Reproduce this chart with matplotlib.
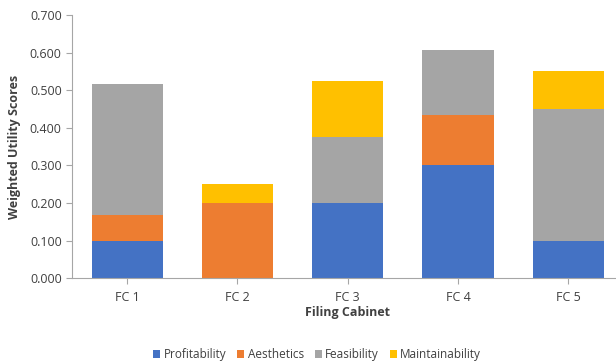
import matplotlib.pyplot as plt
import numpy as np

cabinets = ["FC 1", "FC 2", "FC 3", "FC 4", "FC 5"]
criteria = ["Profitability", "Aesthetics", "Feasibility", "Maintainability"]
profitability = [0.100, 0.000, 0.200, 0.300, 0.100]
aesthetics = [0.067, 0.200, 0.000, 0.133, 0.000]
feasibility = [0.350, 0.000, 0.175, 0.175, 0.350]
maintainability = [0.000, 0.050, 0.150, 0.000, 0.100]
colors = ["#4472C4", "#ED7D31", "#A5A5A5", "#FFC000"]

plt.rcParams['font.family'] = ['Open Sans', 'DejaVu Sans']

fig = plt.figure(figsize=(6.16, 3.64), dpi=100)
ax = fig.add_axes([0.117, 0.236, 0.895, 0.723])

x = np.arange(len(cabinets))
bottom = np.zeros(len(cabinets))
for name, vals, c in zip(criteria, [profitability, aesthetics, feasibility, maintainability], colors):
    ax.bar(x, vals, width=0.645, bottom=bottom, color=c, label=name, zorder=2)
    bottom += np.array(vals)

ax.set_xlim(-0.5, 4.5)
ax.set_ylim(0, 0.7)
ax.set_yticks(np.arange(0, 0.71, 0.1))
ax.set_yticklabels([f"{v:.3f}" for v in np.arange(0, 0.71, 0.1)])
ax.set_xticks(x)
ax.set_xticklabels(cabinets)

for s in ["top", "right"]:
    ax.spines[s].set_visible(False)
for s in ["left", "bottom"]:
    ax.spines[s].set_color("#A6A6A6")
ax.tick_params(axis="both", colors="#A6A6A6", labelcolor="#404040", labelsize=9, length=4)
ax.tick_params(axis="x", pad=5)

ax.set_xlabel("Filing Cabinet", fontsize=9, fontweight="bold", color="#404040", labelpad=2)
ax.set_ylabel("Weighted Utility Scores", fontsize=9, fontweight="bold", color="#404040", labelpad=6)

handles, labels = ax.get_legend_handles_labels()
fig.legend(handles, labels, loc="center", bbox_to_anchor=(0.515, 0.025), ncol=4, frameon=False,
           fontsize=8.5, handlelength=0.6, handleheight=0.6, handletextpad=0.3, columnspacing=0.9,
           labelcolor="#404040")

fig.savefig("out.png", dpi=100)
